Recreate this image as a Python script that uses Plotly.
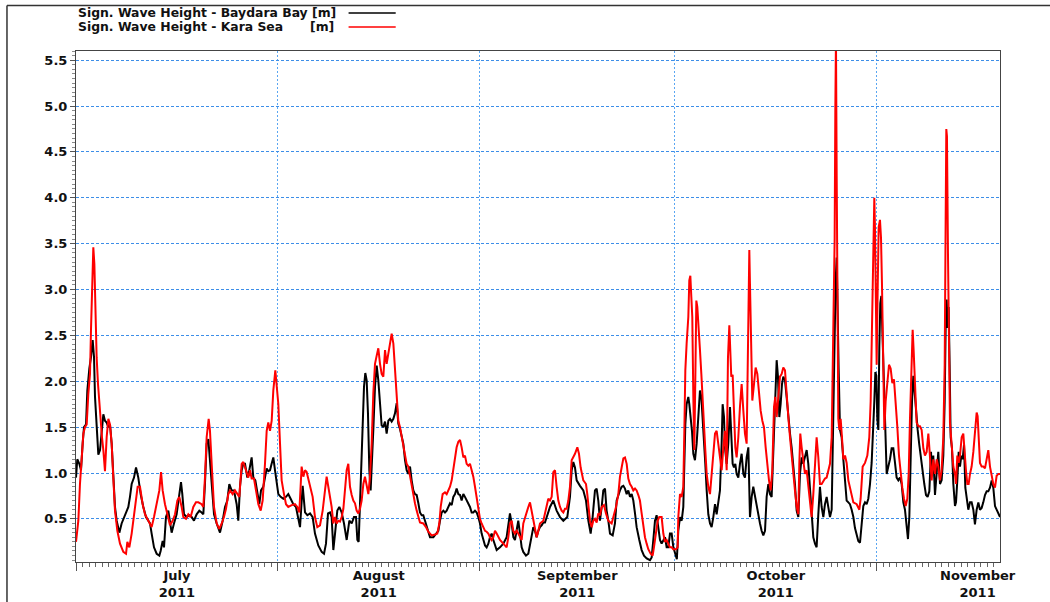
import pandas as pd
import plotly.graph_objects as go

# Significant wave height, July - November 2011.
# Time is given in days since 2011-07-01 00:00.
START = "2011-07-01"
END = "2011-11-19 22:30"

baydara_days = [
    0.00, 0.20, 0.51, 0.77, 1.02, 1.23, 1.54, 1.74, 2.05, 2.30, 2.56, 2.77, 2.92, 3.17, 3.43, 3.69,
    3.94, 4.20, 4.45, 4.71, 4.97, 5.22, 5.48, 5.73, 5.99, 6.25, 6.66, 7.01, 7.53, 8.04, 8.29, 8.55,
    8.91, 9.22, 9.57, 9.93, 10.34, 10.75, 11.11, 11.37, 11.62, 11.98, 12.39, 12.80, 13.00, 13.31,
    13.52, 13.82, 14.18, 14.44, 14.69, 15.05, 15.46, 15.82, 16.13, 16.33, 16.59, 17.00, 17.41,
    17.77, 18.12, 18.53, 18.94, 19.30, 19.56, 19.81, 20.07, 20.33, 20.58, 20.84, 21.20, 21.61,
    22.12, 22.53, 22.89, 23.24, 23.55, 23.91, 24.27, 24.68, 24.93, 25.19, 25.45, 25.70, 25.96,
    26.32, 26.62, 26.98, 27.24, 27.55, 27.85, 28.16, 28.42, 28.77, 29.03, 29.29, 29.54, 29.80,
    30.05, 30.31, 30.57, 30.82, 31.08, 31.44, 31.85, 32.26, 32.61, 32.97, 33.38, 33.79, 34.15,
    34.41, 34.82, 35.18, 35.54, 35.95, 36.35, 36.71, 37.22, 37.74, 38.10, 38.40, 38.71, 39.02,
    39.27, 39.53, 39.79, 40.14, 40.45, 40.81, 41.17, 41.58, 41.99, 42.35, 42.70, 43.01, 43.22,
    43.42, 43.63, 43.83, 44.03, 44.24, 44.44, 44.65, 44.85, 45.06, 45.26, 45.47, 45.67, 45.93,
    46.19, 46.44, 46.70, 46.95, 47.21, 47.47, 47.72, 47.98, 48.23, 48.49, 48.75, 49.00, 49.26,
    49.51, 49.77, 50.03, 50.28, 50.54, 50.79, 51.05, 51.31, 51.56, 51.82, 52.07, 52.33, 52.59,
    52.84, 53.10, 53.35, 53.61, 53.87, 54.12, 54.38, 54.89, 55.30, 55.66, 55.91, 56.17, 56.43,
    56.68, 56.94, 57.19, 57.45, 57.71, 57.96, 58.22, 58.47, 58.73, 58.99, 59.24, 59.50, 59.75,
    60.01, 60.27, 60.52, 60.78, 61.03, 61.29, 61.55, 61.80, 62.06, 62.31, 62.57, 62.83, 63.08,
    63.34, 63.59, 63.85, 64.11, 64.36, 64.62, 65.13, 65.64, 66.15, 66.41, 66.66, 66.92, 67.18,
    67.43, 67.69, 67.94, 68.20, 68.46, 68.71, 69.12, 69.48, 69.74, 69.99, 70.25, 70.50, 70.76,
    71.02, 71.27, 71.53, 71.79, 72.04, 72.30, 72.55,
    72.81, 73.32, 73.83, 74.35, 74.86, 75.47, 75.88, 76.14, 76.39, 76.65, 76.91, 77.42, 77.93,
    78.34, 78.70, 79.06, 79.36, 79.72, 79.98, 80.23, 80.49, 80.75, 81.00, 81.26, 81.51, 81.77,
    82.03, 82.44, 82.79, 83.05, 83.31, 83.56, 83.82, 84.08, 84.33, 84.59, 84.84, 85.10, 85.36,
    85.61, 85.87, 86.12, 86.53, 86.89, 87.25, 87.66, 88.17, 88.43, 88.68, 88.94, 89.19, 89.45,
    89.71, 89.96, 90.22, 90.48, 90.73, 90.99, 91.24, 91.50, 91.76, 92.01, 92.30,
    92.52, 92.78, 93.04, 93.29, 93.45, 93.60, 93.80, 94.06, 94.21, 94.42, 94.62, 94.83, 95.08,
    95.34, 95.60, 95.85, 96.06, 96.26, 96.47, 96.67, 96.88, 97.13, 97.39, 97.64, 97.90, 98.16,
    98.41, 98.67, 98.92, 99.18, 99.33, 99.54, 99.69, 99.95, 100.20, 100.46, 100.66, 100.87,
    101.07, 101.28, 101.48, 101.74, 101.99, 102.25, 102.51, 102.76, 103.02, 103.28, 103.53,
    103.79, 104.04, 104.30, 104.56, 104.81, 105.07, 105.32, 105.58, 105.84, 106.09, 106.35,
    106.60, 106.86, 107.12, 107.37, 107.63, 107.83, 108.04, 108.24, 108.45, 108.65, 108.91,
    109.16, 109.42, 109.68, 109.93, 110.19, 110.44, 110.70, 110.96, 111.21, 111.47, 111.72,
    111.98, 112.24, 112.49, 112.75, 113.00, 113.26, 113.52, 113.77, 114.03, 114.28, 114.54,
    114.80, 115.05, 115.31, 115.56, 115.82,
    116.08, 116.23, 116.39, 116.54, 116.69, 116.85, 117.00, 117.15, 117.36, 117.61, 117.87,
    118.13, 118.38, 118.64, 118.89, 119.15, 119.41, 119.66, 119.92, 120.17, 120.43, 120.69,
    120.94, 121.20, 121.45, 121.71, 121.97, 122.22, 122.48, 122.63, 122.79, 122.94, 123.09,
    123.25, 123.40, 123.55, 123.71, 123.86, 124.01, 124.27, 124.53, 124.78, 125.04, 125.29,
    125.55, 125.81, 126.06, 126.32, 126.57, 126.83, 127.09, 127.34, 127.60, 127.80, 128.01,
    128.21, 128.42, 128.62, 128.83, 129.03, 129.29, 129.54, 129.80, 130.06, 130.31, 130.57,
    130.82, 131.08, 131.34, 131.49, 131.69, 131.95, 132.21, 132.46, 132.72, 132.97, 133.23,
    133.44, 133.59, 133.74, 133.90, 134.05, 134.20, 134.36, 134.56, 134.77, 135.02, 135.18,
    135.38, 135.59, 135.79, 136.00, 136.20, 136.41, 136.61, 136.81, 137.07, 137.33, 137.58,
    137.84, 138.09, 138.35, 138.61, 138.86, 139.12, 139.37, 139.63, 139.89, 140.14, 140.40,
    140.66, 140.91, 141.17, 141.42, 141.68, 141.94,
]
baydara_hs = [
    0.95, 1.15, 1.10, 1.03, 1.32, 1.50, 1.53, 1.90, 2.14, 2.26, 2.45, 2.26, 1.83, 1.46, 1.20, 1.25,
    1.46, 1.64, 1.57, 1.55, 1.50, 1.53, 1.32, 0.92, 0.63, 0.48, 0.35, 0.45, 0.55, 0.63, 0.74, 0.88,
    0.95, 1.06, 0.95, 0.77, 0.63, 0.52, 0.48, 0.45, 0.34, 0.19, 0.12, 0.10, 0.15, 0.26,
    0.19, 0.52, 0.59, 0.48, 0.35, 0.45, 0.55, 0.74, 0.90, 0.77, 0.55, 0.52, 0.54,
    0.52, 0.48, 0.55, 0.59, 0.57, 0.55, 0.88, 1.32, 1.37, 1.14, 0.81, 0.55, 0.45,
    0.35, 0.48, 0.63, 0.70, 0.88, 0.81, 0.81, 0.66, 0.48, 0.85, 1.03, 1.10, 1.10,
    0.95, 1.03, 1.17, 0.95, 0.92, 0.77, 0.66, 0.81, 0.85, 0.95, 1.05, 1.02, 1.03,
    1.10, 1.17, 1.03, 0.88, 0.77, 0.74, 0.72, 0.74, 0.77, 0.72, 0.66, 0.63, 0.48,
    0.41, 0.86, 0.57, 0.54, 0.56, 0.52, 0.34, 0.21, 0.14, 0.12, 0.23, 0.56, 0.57,
    0.52, 0.16, 0.34, 0.59, 0.63, 0.57, 0.45, 0.27, 0.48, 0.45, 0.52, 0.52, 0.27,
    0.25, 0.67, 1.10, 1.50, 1.94, 2.09, 2.01, 1.65, 1.03, 0.81, 1.10, 1.47, 1.94,
    2.17, 2.01, 1.72, 1.52, 1.50, 1.56, 1.43, 1.57, 1.59, 1.56, 1.59, 1.65, 1.76,
    1.54, 1.48, 1.39, 1.32, 1.14, 1.03, 0.99, 1.07, 0.92, 0.81, 0.77, 0.76, 0.67,
    0.57, 0.54, 0.54, 0.48, 0.41, 0.34, 0.30, 0.30, 0.34, 0.37, 0.48, 0.57, 0.59,
    0.57, 0.59, 0.63, 0.67, 0.65, 0.74, 0.77, 0.83, 0.77, 0.76, 0.70, 0.77, 0.74,
    0.70, 0.67, 0.63, 0.57, 0.57, 0.59, 0.57, 0.52, 0.45, 0.34, 0.27, 0.21, 0.19,
    0.23, 0.30, 0.34, 0.27, 0.21, 0.16, 0.19, 0.23, 0.30, 0.45, 0.56, 0.45, 0.30,
    0.27, 0.37, 0.48, 0.34, 0.19, 0.14, 0.10, 0.12, 0.23, 0.34, 0.41, 0.37, 0.30,
    0.37, 0.41, 0.43, 0.46, 0.46, 0.52, 0.59,
    0.63, 0.70, 0.59, 0.52, 0.48, 0.52, 0.74, 1.03, 1.12, 1.06, 0.92, 0.86, 0.81,
    0.70, 0.48, 0.34, 0.52, 0.81, 0.83, 0.70, 0.48, 0.63, 0.81, 0.83, 0.59, 0.48,
    0.34, 0.32, 0.45, 0.70, 0.77, 0.81, 0.85, 0.86, 0.83, 0.77, 0.81, 0.74, 0.77,
    0.70, 0.56, 0.41, 0.27, 0.16, 0.10, 0.07, 0.05, 0.08, 0.27, 0.48, 0.54, 0.41,
    0.27, 0.23, 0.27, 0.30, 0.19, 0.19, 0.34, 0.34, 0.19, 0.12, 0.06,
    0.37, 0.52, 0.48, 0.63, 1.10, 1.53, 1.75, 1.83, 1.75, 1.61, 1.46, 1.21, 1.14,
    1.32, 1.61, 1.90, 1.83, 1.61, 1.39, 1.10, 0.81, 0.55, 0.45, 0.41, 0.52, 0.66,
    0.55, 0.66, 0.81, 1.32, 1.75, 1.61, 1.28, 1.10, 1.32, 1.72, 1.46, 1.10,
    1.06, 1.10, 0.99, 0.95, 1.10, 1.21, 0.99, 0.95, 1.17, 1.28, 0.52,
    0.74, 0.85, 0.74, 0.63, 0.52, 0.45, 0.37, 0.32, 0.37, 0.74, 0.88,
    0.77, 0.74, 1.25, 1.68, 2.23, 2.05, 1.61, 1.75, 1.97, 2.05, 2.01,
    1.83, 1.61, 1.43, 1.28, 1.10, 0.88, 0.59, 0.52, 0.99, 1.17, 1.10,
    1.17, 1.25, 1.10, 0.81, 0.52, 0.30, 0.23, 0.19, 0.55, 0.85, 0.63,
    0.52, 0.66, 0.74, 0.63, 0.52,
    0.60, 1.19, 2.18, 2.77, 3.09, 3.35, 2.58, 2.14, 1.47, 1.39, 1.15,
    0.88, 0.70, 0.68, 0.66, 0.60, 0.52, 0.40, 0.32, 0.26, 0.24, 0.44,
    0.64, 0.68, 0.66, 0.72, 0.88, 1.11, 1.47, 1.78, 2.10, 2.06, 1.59,
    1.47, 2.38, 2.85, 2.93, 2.58, 2.18, 1.63, 0.99, 1.07, 1.15, 1.27,
    1.27, 1.11, 0.95, 0.92, 0.95, 0.88, 0.68, 0.60, 0.44, 0.28, 0.52,
    1.19, 1.78, 2.06, 1.86, 1.66, 1.47, 1.31, 1.15, 0.99, 0.88, 0.76,
    0.74, 0.80, 1.23, 0.99, 1.19, 0.76, 0.99, 1.23, 0.88, 0.92, 1.19,
    1.78, 2.58, 2.89, 2.58, 2.81, 2.18, 1.39, 1.27, 0.88, 0.64, 0.68,
    0.92, 1.23, 1.07, 1.19, 1.15, 1.31, 0.84, 0.72, 0.60, 0.68, 0.68,
    0.60, 0.44, 0.60, 0.68, 0.60, 0.62, 0.68, 0.76, 0.80, 0.80, 0.84,
    0.92, 0.84, 0.64, 0.60, 0.56, 0.52,
]

kara_days = [
    0.00, 0.36, 0.61, 0.87, 1.13, 1.38, 1.64, 1.89, 2.15, 2.30, 2.46, 2.66, 2.82, 2.97, 3.17, 3.38,
    3.58, 3.79, 3.99, 4.20, 4.45, 4.71, 4.97, 5.22, 5.48, 5.73, 5.99, 6.35, 6.76, 7.27, 7.68, 7.89,
    8.19, 8.55, 8.81, 9.11, 9.47, 9.83, 10.24, 10.60, 11.11, 11.62, 11.98, 12.39, 12.80, 13.06,
    13.31, 13.67, 14.03, 14.44, 14.85, 15.21, 15.57, 15.87, 16.23, 16.49, 16.90, 17.25, 17.61,
    18.02, 18.43, 18.79, 19.30, 19.56, 19.81, 20.07, 20.38, 20.58, 20.84, 21.20, 21.61, 22.02,
    22.38, 22.73, 23.04, 23.40, 23.66, 24.06, 24.42, 24.78, 25.09, 25.45, 25.70, 26.11, 26.47,
    26.73, 26.98, 27.34, 27.65, 28.01, 28.37, 28.67, 29.03, 29.29, 29.54, 29.80, 30.06, 30.31,
    30.62, 30.82, 31.08, 31.34, 31.59, 31.95, 32.26, 32.61, 33.13, 33.64, 34.00, 34.30,
    34.66, 34.92, 35.18, 35.43, 35.94, 36.35, 36.71, 37.07, 37.48, 37.89, 38.25, 38.50, 38.76,
    39.02, 39.27, 39.53, 39.79, 40.04, 40.30, 40.55, 40.81, 41.07, 41.32, 41.58, 41.83, 42.09,
    42.35, 42.60, 42.86, 43.11, 43.37, 43.63, 43.88, 44.14, 44.39, 44.65, 44.91, 45.16, 45.42,
    45.67, 45.93, 46.19, 46.44, 46.70, 46.95, 47.21, 47.47, 47.72, 47.98, 48.23, 48.49, 48.75,
    49.00, 49.26, 49.51, 49.77, 50.03, 50.28, 50.54, 50.79, 51.05, 51.31, 51.56, 51.82, 52.07,
    52.33, 52.59, 52.84, 53.35, 53.76, 54.12, 54.63, 55.14, 55.50, 55.81, 56.02, 56.32, 56.68,
    56.94, 57.19, 57.45, 57.71, 57.96, 58.22, 58.47, 58.73, 58.99, 59.24, 59.50, 59.75, 60.01,
    60.27, 60.52, 60.78, 61.03, 61.29, 61.55, 61.80, 62.06, 62.31, 62.57, 62.83, 63.08, 63.34,
    63.59, 63.85, 64.11, 64.36, 64.62, 64.87, 65.13, 65.64, 66.15, 66.41, 66.66, 66.92, 67.18,
    67.43, 67.69, 67.94, 68.20, 68.46, 68.71, 68.97, 69.22, 69.48, 69.74, 69.99, 70.25, 70.50,
    70.76, 71.02, 71.27, 71.79, 72.04, 72.30, 72.55,
    72.81, 73.07, 73.32, 73.58, 73.83, 74.09, 74.35, 74.60, 74.86, 75.11, 75.37, 75.63, 75.88,
    76.14, 76.65, 77.01, 77.26, 77.52, 77.93, 78.34, 78.54, 78.95, 79.21, 79.47, 79.72, 79.98,
    80.23, 80.49, 80.75, 81.10, 81.41, 81.77, 82.28, 82.64, 82.95, 83.31, 83.56, 83.82, 84.08,
    84.33, 84.59, 84.84, 85.10, 85.36, 85.61, 85.87, 86.12, 86.38, 86.63, 86.89, 87.15, 87.40,
    87.66, 87.91, 88.27, 88.58, 88.78, 89.04, 89.35, 89.60, 89.96, 90.22, 90.47, 90.73, 90.99,
    91.24, 91.50, 91.75, 92.16, 92.42,
    92.52, 92.78, 93.04, 93.29, 93.45, 93.60, 93.80, 94.06, 94.21, 94.37, 94.52, 94.67, 94.83,
    94.98, 95.13, 95.29, 95.44, 95.65, 95.85, 96.06, 96.26, 96.47, 96.67, 96.88, 97.13, 97.39,
    97.64, 97.90, 98.16, 98.41, 98.67, 98.92, 99.18, 99.44, 99.69, 99.95, 100.15, 100.36,
    100.51, 100.66, 100.87, 101.07, 101.28, 101.48, 101.74, 101.99, 102.25, 102.51, 102.76,
    103.02, 103.17, 103.33, 103.43, 103.53, 103.69, 103.89, 104.15, 104.40, 104.66, 104.91,
    105.17, 105.43, 105.68, 105.94, 106.19, 106.45, 106.71, 106.96, 107.22, 107.42, 107.63,
    107.88, 108.14, 108.40, 108.65, 108.91, 109.16, 109.42, 109.68, 109.93, 110.19, 110.44,
    110.70, 110.96, 111.11, 111.26, 111.47, 111.72, 111.98, 112.24, 112.49, 112.75, 113.00,
    113.26, 113.52, 113.77, 114.03, 114.28, 114.54, 114.80, 115.05, 115.31, 115.56, 115.82,
    116.08, 116.23, 116.39, 116.54, 116.64, 116.74, 116.85, 116.95, 117.10, 117.26, 117.46,
    117.66, 117.87, 118.13, 118.38, 118.64, 118.89, 119.15, 119.41, 119.92, 120.33, 120.53,
    120.84, 121.20, 121.56, 121.86, 122.07, 122.27, 122.48, 122.63, 122.73, 122.89, 122.99,
    123.14, 123.30, 123.50, 123.66, 123.81, 123.96, 124.17, 124.37, 124.63, 124.89, 125.14,
    125.40, 125.65, 125.91, 126.16, 126.42, 126.68, 126.93, 127.19, 127.45, 127.70, 127.91,
    128.11, 128.32, 128.52, 128.67, 128.88, 129.13, 129.39, 129.65, 129.90, 130.16, 130.41,
    130.67, 130.93, 131.18, 131.44, 131.69, 131.95, 132.21, 132.46, 132.72, 132.97, 133.23,
    133.44, 133.59, 133.69, 133.79, 133.95, 134.10, 134.25, 134.51, 134.77, 135.02, 135.18,
    135.38, 135.59, 135.79, 136.05, 136.30, 136.51, 136.71, 136.92, 137.12, 137.33, 137.58,
    137.84, 138.09, 138.35, 138.50, 138.66, 138.86, 139.12, 139.37, 139.63, 139.89, 140.14,
    140.40, 140.66, 140.91, 141.17, 141.42, 141.68, 141.94,
]
kara_hs = [
    0.25, 0.48, 0.88, 1.17, 1.43, 1.50, 1.53, 1.86, 2.08, 2.55, 3.10, 3.46, 3.28, 2.74, 2.26, 1.97,
    1.75, 1.61, 1.39, 1.25, 1.02, 1.39, 1.59, 1.53, 1.32, 0.95, 0.59, 0.37, 0.23, 0.14, 0.12, 0.25,
    0.19, 0.34, 0.48, 0.66, 0.85, 0.85, 0.66, 0.55, 0.48, 0.41, 0.52, 0.68, 0.81, 1.01,
    0.81, 0.66, 0.55, 0.43, 0.48, 0.55, 0.70, 0.74, 0.63, 0.52, 0.50, 0.55, 0.52,
    0.63, 0.68, 0.68, 0.66, 0.63, 0.95, 1.39, 1.59, 1.46, 1.10, 0.63, 0.45, 0.39,
    0.45, 0.52, 0.61, 0.77, 0.81, 0.77, 0.81, 0.77, 0.74, 1.10, 1.12, 1.03, 0.95,
    1.03, 0.94, 0.94, 0.81, 0.66, 0.59, 0.70, 1.10, 1.46, 1.55, 1.46, 1.57, 1.90,
    2.12, 1.97, 1.75, 1.32, 0.92, 0.77, 0.66, 0.63, 0.65, 0.66, 0.63, 0.57,
    1.07, 0.96, 1.03, 1.01, 0.85, 0.74, 0.52, 0.41, 0.43, 0.59, 0.81, 0.96, 0.85,
    0.74, 0.63, 0.45, 0.52, 0.45, 0.48, 0.47, 0.52, 0.61, 0.81, 1.03, 1.10, 0.85,
    0.76, 0.70, 0.67, 0.59, 0.56, 0.61, 0.70, 0.88, 0.96, 0.88, 0.77, 0.96, 1.32,
    1.87, 2.19, 2.28, 2.36, 2.19, 2.08, 2.05, 2.34, 2.19, 2.30, 2.41, 2.52, 2.41,
    2.16, 1.83, 1.57, 1.50, 1.39, 1.28, 1.17, 1.10, 1.07, 0.96, 0.85, 0.74, 0.67,
    0.59, 0.52, 0.46, 0.45, 0.41, 0.36, 0.32, 0.33, 0.34, 0.45, 0.63, 0.77, 0.79,
    0.77, 0.81, 0.85, 0.92, 1.03, 1.17, 1.28, 1.34, 1.36, 1.28, 1.17, 1.19, 1.10,
    1.08, 1.10, 1.03, 0.96, 0.85, 0.74, 0.59, 0.50, 0.45, 0.41, 0.37, 0.36, 0.34,
    0.30, 0.27, 0.30, 0.37, 0.34, 0.30, 0.27, 0.23, 0.19, 0.30, 0.45, 0.48, 0.37,
    0.34, 0.37, 0.34, 0.30, 0.27, 0.45, 0.52, 0.59, 0.63, 0.68, 0.59, 0.52, 0.41,
    0.30, 0.37, 0.45, 0.48, 0.56, 0.67, 0.72,
    0.70, 0.74, 1.01, 1.03, 0.85, 0.70, 0.63, 0.59, 0.57, 0.61, 0.61, 0.70, 0.85,
    1.14, 1.21, 1.28, 1.21, 1.06, 0.92, 0.88, 0.77, 0.48, 0.41, 0.48, 0.50, 0.46,
    0.56, 0.54, 0.63, 0.65, 0.56, 0.48, 0.45, 0.54, 0.63, 0.77, 0.96, 1.06, 1.16,
    1.17, 1.10, 0.94, 0.88, 0.85, 0.81, 0.83, 0.81, 0.76, 0.70, 0.56, 0.41, 0.30,
    0.23, 0.17, 0.12, 0.10, 0.19, 0.34, 0.48, 0.52, 0.52, 0.34, 0.25, 0.27, 0.23,
    0.19, 0.19, 0.17, 0.17, 0.19,
    0.52, 0.77, 0.74, 0.85, 1.46, 2.12, 2.41, 2.70, 3.10, 3.15, 2.92, 2.70, 1.83,
    1.25, 2.00, 2.88, 2.81, 2.48, 2.34, 2.08, 1.75, 1.46, 1.25, 0.99, 0.85, 0.77,
    0.99, 1.28, 1.43, 1.46, 1.32, 1.14, 1.03, 1.28, 1.46, 1.03, 2.26, 2.61,
    2.37, 2.05, 2.07, 1.75, 1.28, 1.17, 1.39, 1.72, 1.97, 1.68, 1.43,
    1.32, 2.26, 2.99, 3.43, 3.06, 2.26, 1.79, 1.97, 2.15, 2.08, 1.83,
    1.68, 1.57, 1.50, 1.28, 1.10, 0.92, 0.81, 1.03, 1.72, 1.83, 1.61,
    1.83, 2.05, 2.08, 2.15, 2.12, 1.83, 1.61, 1.39, 1.17, 0.99, 0.81,
    0.63, 0.55, 1.10, 1.43, 1.28, 1.10, 0.99, 1.03, 0.88, 0.66, 0.52,
    0.77, 1.17, 1.39, 1.17, 0.88, 0.88, 0.92, 0.94, 0.95, 1.03, 1.10,
    1.39, 1.98, 2.77, 3.56, 4.95, 5.74, 4.24, 2.58, 1.59, 1.47, 1.59,
    1.39, 1.15, 1.19, 1.11, 0.92, 0.84, 0.76, 0.68, 0.66, 0.60, 0.72,
    1.07, 1.11, 1.19, 1.39, 1.78, 2.58, 3.37, 4.00, 3.68, 2.77, 2.18,
    2.97, 3.68, 3.76, 3.56, 3.05, 2.18, 1.47, 1.78, 1.98, 2.18, 2.14,
    1.98, 2.02, 1.78, 1.51, 1.19, 0.99, 0.84, 0.72, 0.64, 0.72, 0.99,
    1.59, 2.26, 2.56, 2.34, 1.98, 1.55, 1.51, 1.51, 1.47, 1.27, 1.19,
    1.23, 1.43, 1.11, 0.92, 1.15, 0.99, 1.15, 1.07, 0.92, 1.03, 1.39,
    2.18, 3.76, 4.75, 4.67, 3.37, 2.38, 1.55, 1.31, 1.07, 0.99, 0.88,
    1.19, 1.11, 1.19, 1.39, 1.43, 1.15, 1.03, 0.88, 0.88, 0.99, 1.07,
    1.23, 1.43, 1.66, 1.62, 1.35, 1.11, 1.07, 1.07, 1.05, 1.15, 1.25,
    1.07, 0.99, 0.88, 0.84, 0.97, 0.99, 0.99,
]

SERIES = [
    ("Sign. Wave Height - Baydara Bay [m]", baydara_days, baydara_hs, "#000000"),
    ("Sign. Wave Height - Kara Sea [m]", kara_days, kara_hs, "#ff0000"),
]

Y_TICKS = [0.5, 1.0, 1.5, 2.0, 2.5, 3.0, 3.5, 4.0, 4.5, 5.0, 5.5]

FONT = "DejaVu Sans"
LEGEND_FONT = dict(family=FONT, size=12.4, weight="bold", color="#111111")
t0 = pd.Timestamp(START)

fig = go.Figure()
for name, days, hs, color in SERIES:
    times = t0 + pd.to_timedelta(days, unit="D")
    fig.add_trace(go.Scatter(
        x=times, y=hs, mode="lines", name=name,
        line=dict(color=color, width=2), showlegend=False,
    ))

axis_line = "#444444"
fig.update_layout(
    width=1050, height=602,
    margin=dict(l=76, r=50, t=51, b=40),
    paper_bgcolor="white", plot_bgcolor="white",
    font=dict(family=FONT, color="#111111"),
    xaxis=dict(
        range=[START, END], type="date", automargin=False,
        tick0=START, dtick="M1", ticklabelmode="period",
        tickformat="%B<br>%Y", ticklabelstandoff=-7,
        ticks="outside", ticklen=8, tickwidth=1, tickcolor="#555555",
        tickfont=dict(family=FONT, size=13, weight="bold", color="#111111"),
        showgrid=True, gridcolor="#5aa6f2", griddash="2px,2px", gridwidth=1,
        minor=dict(dtick=86400000, ticks="outside", ticklen=4, tickcolor="#666666",
                   showgrid=False),
        showline=True, linecolor=axis_line, linewidth=1, mirror=True,
        zeroline=False,
    ),
    yaxis=dict(
        range=[0.03, 5.6], automargin=False,
        tickvals=Y_TICKS, ticktext=[f"{v:.1f}" for v in Y_TICKS],
        ticks="outside", ticklen=5, tickcolor="#555555",
        tickfont=dict(family=FONT, size=13, weight="bold", color="#111111"),
        showgrid=True, gridcolor="#3d8ee8", griddash="3px,2px", gridwidth=1,
        minor=dict(dtick=0.05, tick0=0.0, ticks="outside", ticklen=3,
                   tickcolor="#8a8a8a", showgrid=False),
        showline=True, linecolor=axis_line, linewidth=1, mirror=True,
        zeroline=False,
    ),
)

# Legend block above the plot: label text followed by a line sample.
Y_ROW1, Y_ROW2 = 1.0744, 1.047
fig.add_annotation(text="Sign. Wave Height - Baydara Bay [m]", xref="paper", yref="paper",
                   x=0.0, y=Y_ROW1, xanchor="left", yanchor="middle",
                   showarrow=False, font=LEGEND_FONT)
fig.add_annotation(text="Sign. Wave Height - Kara Sea", xref="paper", yref="paper",
                   x=0.0, y=Y_ROW2, xanchor="left", yanchor="middle",
                   showarrow=False, font=LEGEND_FONT)
fig.add_annotation(text="[m]", xref="paper", yref="paper", x=0.2815, y=Y_ROW2,
                   xanchor="right", yanchor="middle", showarrow=False, font=LEGEND_FONT)
for color, yp in (("#000000", Y_ROW1), ("#ff0000", Y_ROW2)):
    fig.add_shape(type="line", xref="paper", yref="paper", x0=0.295, x1=0.346,
                  y0=yp, y1=yp, line=dict(color=color, width=1.5))

# Outer frame lines at the top and left of the page.
fig.add_shape(type="line", xref="paper", yref="paper", x0=-0.0747, x1=1.06,
              y0=1.089, y1=1.089, line=dict(color="#333333", width=1.5))
fig.add_shape(type="line", xref="paper", yref="paper", x0=-0.0747, x1=-0.0747,
              y0=-0.09, y1=1.089, line=dict(color="#333333", width=1.5))

fig.write_html("out.html")
